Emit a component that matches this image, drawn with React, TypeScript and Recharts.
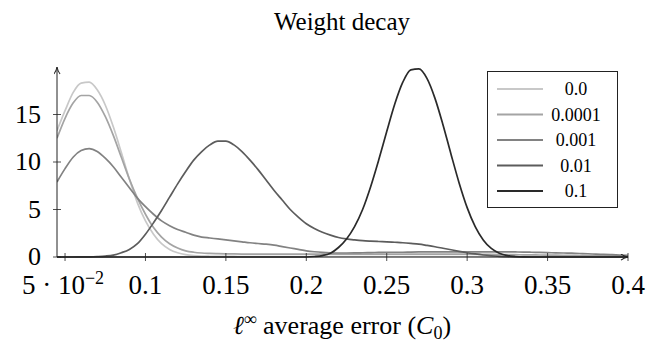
import { CartesianGrid, Legend, Line, LineChart, XAxis, YAxis } from "recharts";

// error grid (ℓ∞ average error)
const errorGrid = [
    0.045, 0.05, 0.055, 0.06, 0.065, 0.07, 0.075, 0.08, 0.085, 0.09,
    0.095, 0.1, 0.105, 0.11, 0.115, 0.12, 0.125, 0.13, 0.135, 0.14,
    0.145, 0.15, 0.155, 0.16, 0.165, 0.17, 0.175, 0.18, 0.185, 0.19,
    0.195, 0.2, 0.205, 0.21, 0.215, 0.22, 0.225, 0.23, 0.235, 0.24,
    0.245, 0.25, 0.255, 0.26, 0.265, 0.27, 0.275, 0.28, 0.285, 0.29,
    0.295, 0.3, 0.305, 0.31, 0.315, 0.32, 0.325, 0.33, 0.335, 0.34,
    0.345, 0.35, 0.355, 0.36, 0.365, 0.37, 0.375, 0.38, 0.385, 0.39,
    0.395, 0.4,
];

const wd0 = [
    13.3, 15.4, 17.3, 18.3, 18.4, 17.6, 16.0, 13.7, 11.0, 8.2,
    5.7, 3.8, 2.4, 1.4, 0.8, 0.45, 0.25, 0.15, 0.1, 0.08,
    0.07, 0.06, 0.06, 0.05, 0.05, 0.05, 0.05, 0.05, 0.05, 0.05,
    0.05, 0.05, 0.05, 0.05, 0.05, 0.05, 0.05, 0.05, 0.05, 0.05,
    0.05, 0.05, 0.05, 0.05, 0.05, 0.05, 0.05, 0.05, 0.05, 0.05,
    0.05, 0.05, 0.05, 0.05, 0.05, 0.05, 0.05, 0.05, 0.05, 0.05,
    0.05, 0.05, 0.04, 0.04, 0.04, 0.04, 0.04, 0.03, 0.03, 0.03,
    0.03, 0.03,
];

const wd1 = [
    12.5, 14.6, 16.2, 17.0, 17.0, 16.3, 14.8, 12.8, 10.5, 8.2,
    6.2, 4.5, 3.1, 2.1, 1.4, 0.95, 0.65, 0.5, 0.42, 0.38,
    0.35, 0.33, 0.32, 0.31, 0.3, 0.3, 0.3, 0.3, 0.3, 0.3,
    0.3, 0.3, 0.3, 0.3, 0.3, 0.3, 0.3, 0.3, 0.3, 0.3,
    0.3, 0.3, 0.3, 0.3, 0.3, 0.3, 0.3, 0.3, 0.3, 0.3,
    0.3, 0.3, 0.29, 0.28, 0.27, 0.26, 0.25, 0.24, 0.23, 0.22,
    0.21, 0.2, 0.19, 0.18, 0.17, 0.16, 0.15, 0.14, 0.13, 0.12,
    0.11, 0.1,
];

const wd2 = [
    7.9, 9.3, 10.5, 11.2, 11.4, 11.1, 10.4, 9.5, 8.4, 7.3,
    6.2, 5.3, 4.5, 3.8, 3.3, 2.9, 2.6, 2.3, 2.1, 2.0,
    1.9, 1.8, 1.7, 1.6, 1.5, 1.42, 1.35, 1.25, 1.1, 0.95,
    0.8, 0.65, 0.55, 0.48, 0.44, 0.42, 0.42, 0.43, 0.45, 0.47,
    0.48, 0.5, 0.5, 0.5, 0.52, 0.53, 0.54, 0.55, 0.55, 0.55,
    0.55, 0.55, 0.55, 0.55, 0.55, 0.55, 0.54, 0.53, 0.52, 0.5,
    0.48, 0.46, 0.44, 0.42, 0.4, 0.37, 0.34, 0.3, 0.27, 0.24,
    0.2, 0.17,
];

const wd3 = [
    0, 0, 0, 0.01, 0.02, 0.05, 0.1, 0.2, 0.45, 0.8,
    1.4, 2.4, 3.6, 4.9, 6.3, 7.7, 9.0, 10.2, 11.1, 11.8,
    12.2, 12.2, 11.8, 11.1, 10.2, 9.2, 8.1, 7.0, 6.0, 5.0,
    4.2, 3.5, 3.0, 2.6, 2.3, 2.05, 1.9, 1.8, 1.72, 1.67,
    1.63, 1.6, 1.55, 1.5, 1.43, 1.35, 1.22, 1.08, 0.92, 0.76,
    0.6, 0.45, 0.32, 0.21, 0.13, 0.07, 0.03, 0.01, 0, 0,
    0, 0, 0, 0, 0, 0, 0, 0, 0, 0,
    0, 0,
];

const wd4 = [
    0, 0, 0, 0, 0, 0, 0, 0, 0, 0,
    0, 0, 0, 0, 0, 0, 0, 0, 0, 0,
    0, 0, 0, 0, 0, 0, 0, 0, 0, 0,
    0, 0, 0.05, 0.15, 0.4, 1.0, 1.9, 3.2, 5.0, 7.4,
    10.2, 13.2, 16.1, 18.4, 19.7, 19.8, 18.8, 16.7, 13.9, 10.8,
    7.8, 5.2, 3.2, 1.8, 0.9, 0.4, 0.15, 0.05, 0.01, 0,
    0, 0, 0, 0, 0, 0, 0, 0, 0, 0,
    0, 0,
];

const seriesLabels = ["0.0", "0.0001", "0.001", "0.01", "0.1"];
const seriesColors = ["#c8c8c8", "#a4a4a4", "#828282", "#5c5c5c", "#2a2a2a"];
const seriesValues = [wd0, wd1, wd2, wd3, wd4];

const xTicks = [0.05, 0.1, 0.15, 0.2, 0.25, 0.3, 0.35, 0.4];
const yTicks = [0, 5, 10, 15];

const data = errorGrid.map((x, i) => {
    const row: Record<string, number> = { x };
    seriesValues.forEach((vals, s) => {
        row[`s${s}`] = vals[i];
    });
    return row;
});

const FONT = "'Liberation Serif', serif";
const AXIS = "#222";

const XTick = ({ x, y, payload }: any) => {
    const v = payload.value;
    return (
        <g>
            <line x1={x} x2={x} y1={y - 4} y2={y + 4} stroke={AXIS} strokeWidth={0.8} />
            {v === 0.05 ? (
                <text x={x - 2} y={y + 37} textAnchor="middle" fontFamily={FONT} fontSize={27} fill="#000">
                    5 · 10
                    <tspan dy={-10} fontSize={18}>−2</tspan>
                </text>
            ) : (
                <text x={x} y={y + 37} textAnchor="middle" fontFamily={FONT} fontSize={27} fill="#000">
                    {v}
                </text>
            )}
        </g>
    );
};

const YTick = ({ x, y, payload }: any) => (
    <g>
        <line x1={x - 4} x2={x + 4} y1={y} y2={y} stroke={AXIS} strokeWidth={0.8} />
        <text x={x - 16} y={y + 8} textAnchor="end" fontFamily={FONT} fontSize={26} fill="#000">
            {payload.value}
        </text>
    </g>
);

const LegendBox = () => (
    <div
        style={{
            width: 131,
            height: 137,
            border: "1px solid #222",
            background: "#fff",
            boxSizing: "border-box",
        }}
    >
        <svg width={129} height={135}>
            {seriesLabels.map((label, i) => {
                const cy = 17 + i * 25.5;
                return (
                    <g key={label}>
                        <line x1={9} x2={55} y1={cy} y2={cy} stroke={seriesColors[i]} strokeWidth={2} />
                        <text x={88} y={cy + 6} textAnchor="middle" fontFamily={FONT} fontSize={18} fill="#000">
                            {label}
                        </text>
                    </g>
                );
            })}
        </svg>
    </div>
);

export default function App() {
    return (
        <div style={{ position: "absolute", left: 0, top: 0, width: 650, height: 349, background: "#fff" }}>
            <div
                style={{
                    position: "absolute",
                    left: 0,
                    top: 8,
                    width: 684,
                    textAlign: "center",
                    fontFamily: FONT,
                    fontSize: 25,
                    lineHeight: "28px",
                }}
            >
                Weight decay
            </div>
            <LineChart width={650} height={349} data={data} margin={{ top: 67, right: 22, bottom: 0, left: 0 }}>
                <defs>
                    <marker
                        id="axisArrow"
                        viewBox="0 0 10 8"
                        refX={9}
                        refY={4}
                        markerWidth={9}
                        markerHeight={7}
                        markerUnits="userSpaceOnUse"
                        orient="auto-start-reverse"
                    >
                        <path d="M1,0.5 Q4,3 9,4 Q4,5 1,7.5" fill="none" stroke={AXIS} strokeWidth={1.2} />
                    </marker>
                </defs>
                <CartesianGrid stroke="none" />
                <XAxis
                    dataKey="x"
                    type="number"
                    domain={[0.045, 0.4]}
                    ticks={xTicks}
                    allowDataOverflow
                    height={92}
                    tickSize={0}
                    tickMargin={0}
                    tickLine={false}
                    tick={<XTick />}
                    axisLine={{ stroke: AXIS, strokeWidth: 1, markerEnd: "url(#axisArrow)" }}
                    interval={0}
                />
                <YAxis
                    type="number"
                    domain={[0, 20]}
                    ticks={yTicks}
                    width={57}
                    tickSize={0}
                    tickMargin={0}
                    tickLine={false}
                    tick={<YTick />}
                    axisLine={{ stroke: AXIS, strokeWidth: 1, markerStart: "url(#axisArrow)" }}
                    interval={0}
                />
                <Legend
                    layout="vertical"
                    align="center"
                    verticalAlign="middle"
                    content={<LegendBox />}
                    wrapperStyle={{ left: 487, top: 71, width: 131, height: 137 }}
                />
                {seriesLabels.map((label, s) => (
                    <Line
                        key={label}
                        type="monotone"
                        dataKey={`s${s}`}
                        name={label}
                        stroke={seriesColors[s]}
                        strokeWidth={1.7}
                        dot={false}
                        isAnimationActive={false}
                    />
                ))}
            </LineChart>
            <div
                style={{
                    position: "absolute",
                    left: 0,
                    top: 311,
                    width: 684,
                    textAlign: "center",
                    fontFamily: FONT,
                    fontSize: 26,
                    lineHeight: "30px",
                    whiteSpace: "nowrap",
                }}
            >
                <i>ℓ</i>
                <sup style={{ fontSize: 18, verticalAlign: "9px", lineHeight: 0 }}>∞</sup> average error (<i>C</i>
                <sub style={{ fontSize: 18, verticalAlign: "-5px", lineHeight: 0 }}>0</sub>)
            </div>
        </div>
    );
}
